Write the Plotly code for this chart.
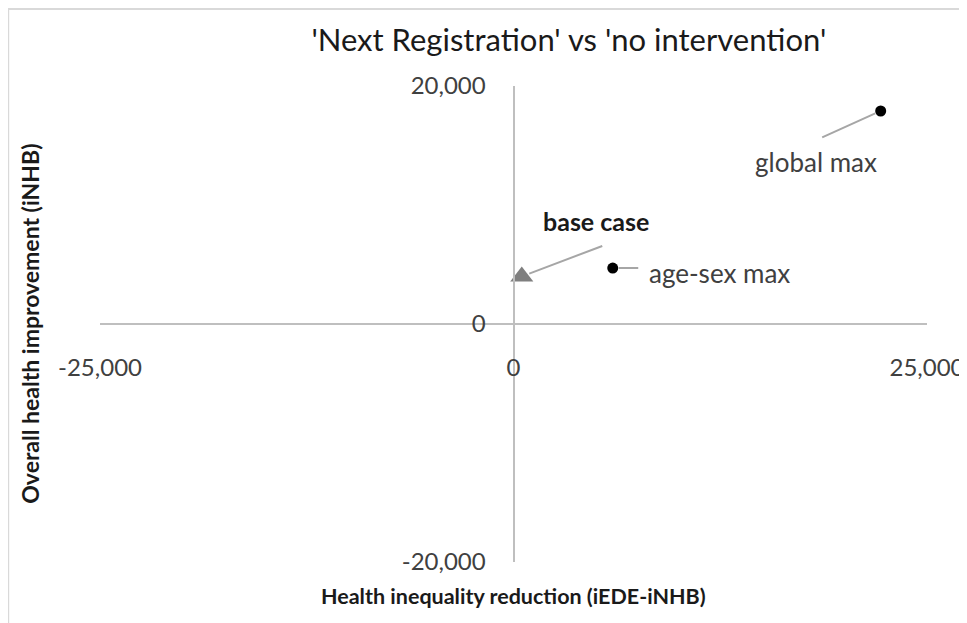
import plotly.graph_objects as go

# ---- data ----
point_labels = ["global max", "age-sex max", "base case"]
x_values = [22200, 6000, 500]          # Health inequality reduction (iEDE-iNHB)
y_values = [17900, 4700, 4000]         # Overall health improvement (iNHB)
x_tick_vals = [-25000, 0, 25000]
x_tick_text = ["-25,000", "0", "25,000"]
y_tick_vals = [-20000, 0, 20000]
y_tick_text = ["-20,000", "0", "20,000"]

FONT = "Lato"
TXT = "#404040"
AXC = "#bfbfbf"

fig = go.Figure()

# black circle points (global max, age-sex max)
fig.add_trace(go.Scatter(
    x=x_values[:2], y=y_values[:2], mode="markers",
    marker=dict(symbol="circle", size=11, color="#000000"),
    showlegend=False, hoverinfo="skip", cliponaxis=False))
# grey triangle (base case)
fig.add_trace(go.Scatter(
    x=x_values[2:], y=y_values[2:], mode="markers",
    marker=dict(symbol="triangle-up", size=20, color="#7f7f7f"),
    showlegend=False, hoverinfo="skip", cliponaxis=False))

ann = []
# global max
ann.append(dict(x=x_values[0], y=y_values[0], xref="x", yref="y", text="",
                showarrow=True, ax=-60, ay=27, arrowhead=0, arrowwidth=2,
                arrowcolor="#a6a6a6", standoff=6))
ann.append(dict(x=x_values[0], y=y_values[0], xref="x", yref="y", text=point_labels[0],
                showarrow=False, xshift=-65, yshift=-51,
                font=dict(family=FONT, size=26, color=TXT)))
# age-sex max
ann.append(dict(x=x_values[1], y=y_values[1], xref="x", yref="y", text="",
                showarrow=True, ax=27, ay=0, arrowhead=0, arrowwidth=2,
                arrowcolor="#a6a6a6", standoff=6))
ann.append(dict(x=x_values[1], y=y_values[1], xref="x", yref="y", text=point_labels[1],
                showarrow=False, xanchor="left", xshift=34, yshift=-5,
                font=dict(family=FONT, size=26, color=TXT)))
# base case
ann.append(dict(x=x_values[2], y=y_values[2], xref="x", yref="y", text="",
                showarrow=True, ax=82, ay=-31, arrowhead=0, arrowwidth=2,
                arrowcolor="#a6a6a6", standoff=8))
ann.append(dict(x=x_values[2], y=y_values[2], xref="x", yref="y",
                text="<b>" + point_labels[2] + "</b>",
                showarrow=False, xshift=74, yshift=55,
                font=dict(family=FONT, size=25, color="#1a1a1a")))
# axis titles
ann.append(dict(x=0.5, y=-0.072, xref="paper", yref="paper", yanchor="middle",
                text="<b>Health inequality reduction (iEDE-iNHB)</b>", showarrow=False,
                font=dict(family=FONT, size=21.5, color="#1a1a1a")))
ann.append(dict(x=-0.085, y=0.5, xref="paper", yref="paper", xanchor="center",
                text="<b>Overall health improvement (iNHB)</b>", showarrow=False,
                textangle=-90, font=dict(family=FONT, size=23, color="#1a1a1a")))

fig.update_layout(
    width=967, height=623,
    margin=dict(l=92, r=48, t=78, b=69, autoexpand=False),
    paper_bgcolor="white", plot_bgcolor="white",
    title=dict(text="'Next Registration' vs 'no intervention'",
               x=0.580, xanchor="center", xref="container",
               y=1 - 32 / 623, yanchor="middle", yref="container",
               automargin=False,
               font=dict(family=FONT, size=31, color="#1a1a1a")),
    xaxis=dict(range=[-25000, 25000], tickvals=x_tick_vals, ticktext=x_tick_text,
               showgrid=False, zeroline=False, showline=True, linecolor=AXC, linewidth=2,
               anchor="free", position=0.5, ticks="", ticklabelstandoff=22,
               automargin=False,
               tickfont=dict(family=FONT, size=24, color=TXT)),
    yaxis=dict(range=[-20000, 20000], tickvals=y_tick_vals, ticktext=y_tick_text,
               showgrid=False, zeroline=False, showline=True, linecolor=AXC, linewidth=2,
               anchor="free", position=0.5, ticks="", ticklabelstandoff=22,
               automargin=False,
               tickfont=dict(family=FONT, size=24, color=TXT)),
    annotations=ann,
    shapes=[dict(type="rect", xref="paper", yref="paper",
                 x0=-0.111, x1=1.2, y0=-0.3, y1=1.162,
                 line=dict(color="#d9d9d9", width=2), layer="below")],
)

fig.write_html("out.html")
